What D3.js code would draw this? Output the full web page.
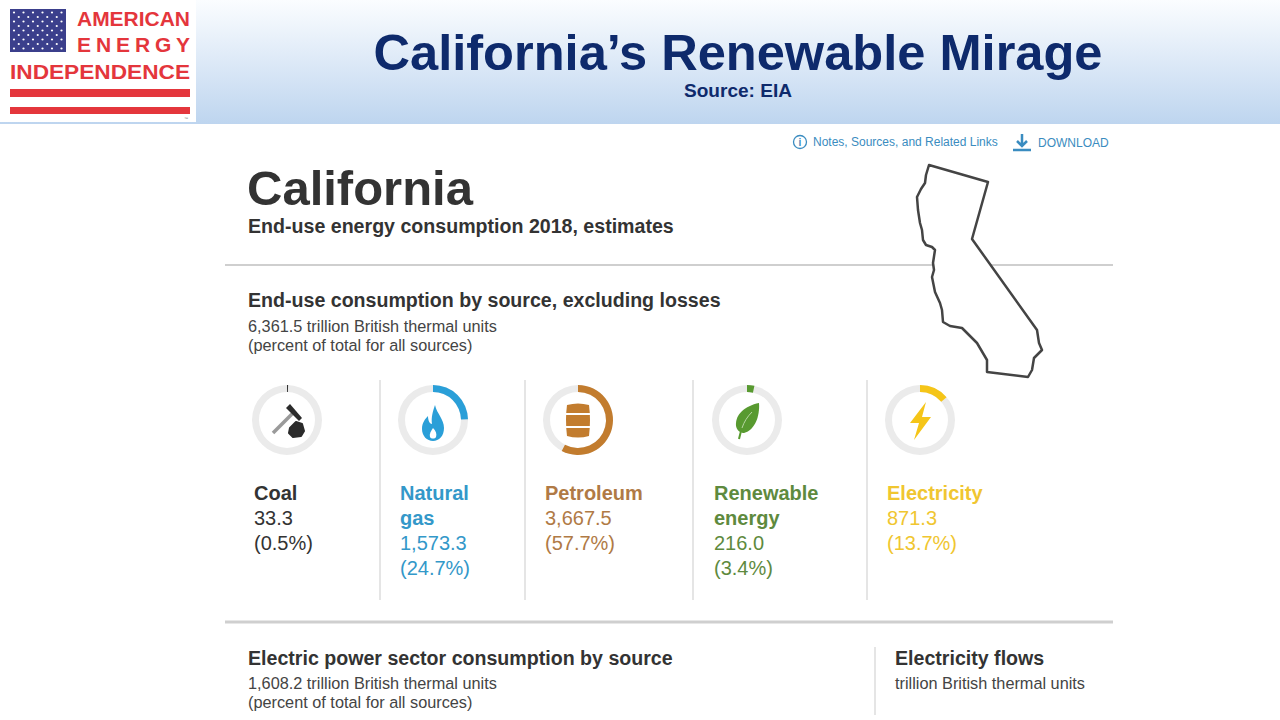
<!DOCTYPE html>
<html>
<head>
<meta charset="utf-8">
<script src="https://cdn.jsdelivr.net/npm/d3@7"></script>
<style>
  body { margin: 0; background: white; }
  text { font-family: "Liberation Sans", Arial, sans-serif; }
</style>
</head>
<body>
<div id="container"></div>
<script>
let w = 1280;
let h = 720;

// data
let categories = ["Coal", "Natural gas", "Petroleum", "Renewable energy", "Electricity"];
let values = [33.3, 1573.3, 3667.5, 216.0, 871.3];
let percents = [0.5, 24.7, 57.7, 3.4, 13.7];
let totalEndUse = 6361.5;
let totalPower = 1608.2;

let ringColors = ["#333333", "#2a9fd8", "#c27c2e", "#589a30", "#f5c518"];
let textColors = ["#333333", "#3398c9", "#b07a45", "#5e8a3e", "#f0c630"];

// layout: ring centres of the five columns
let colCenters = [287, 433, 578, 747, 920];
let ringY = 420;
let rOuter = 35;
let rInner = 28;

let navy = "#0e2a6c";
let logoRed = "#e4363c";
let headSize = 19.6;
let subSize = 16.3;

let viz = d3.select("#container")
  .append("svg")
    .attr("width", w)
    .attr("height", h)
    .style("background-color", "white")
;

// ---------- header band ----------
let defs = viz.append("defs");
let grad = defs.append("linearGradient")
    .attr("id", "band")
    .attr("x1", 0).attr("y1", 0).attr("x2", 0).attr("y2", 1)
;
grad.append("stop").attr("offset", "0%").attr("stop-color", "#fbfdff");
grad.append("stop").attr("offset", "100%").attr("stop-color", "#bed5ef");

viz.append("rect")
  .attr("x", 0)
  .attr("y", 0)
  .attr("width", w)
  .attr("height", 124)
  .attr("fill", "url(#band)")
;

viz.append("text")
  .text("California\u2019s Renewable Mirage")
  .attr("x", 738)
  .attr("y", 70)
  .attr("text-anchor", "middle")
  .attr("font-size", 50)
  .attr("font-weight", "bold")
  .attr("textLength", 729)
  .attr("lengthAdjust", "spacingAndGlyphs")
  .attr("fill", navy)
;
viz.append("text")
  .text("Source: EIA")
  .attr("x", 738)
  .attr("y", 97)
  .attr("text-anchor", "middle")
  .attr("font-size", 18)
  .attr("font-weight", "bold")
  .attr("textLength", 108)
  .attr("lengthAdjust", "spacingAndGlyphs")
  .attr("fill", navy)
;

// ---------- logo ----------
let logo = viz.append("g").attr("class", "logo");
logo.append("rect")
  .attr("x", 0).attr("y", 0)
  .attr("width", 196).attr("height", 122)
  .attr("fill", "white")
;
logo.append("rect")
  .attr("x", 10).attr("y", 9)
  .attr("width", 56).attr("height", 43)
  .attr("fill", "#3b3f8c")
;
for (let r = 0; r < 9; r++) {
  let n = r % 2 == 0 ? 6 : 5;
  for (let c = 0; c < n; c++) {
    logo.append("circle")
      .attr("cx", 14 + c * 9.5 + (r % 2 == 0 ? 0 : 4.75))
      .attr("cy", 12.5 + r * 4.5)
      .attr("r", 1.1)
      .attr("fill", "white")
    ;
  }
}
logo.append("text")
  .text("AMERICAN")
  .attr("x", 77).attr("y", 26)
  .attr("font-size", 21).attr("font-weight", "bold")
  .attr("textLength", 113).attr("lengthAdjust", "spacingAndGlyphs")
  .attr("fill", logoRed)
;
logo.append("text")
  .text("E N E R G Y")
  .attr("x", 77).attr("y", 52)
  .attr("font-size", 21).attr("font-weight", "bold")
  .attr("textLength", 113).attr("lengthAdjust", "spacing")
  .attr("fill", logoRed)
;
logo.append("text")
  .text("INDEPENDENCE")
  .attr("x", 10).attr("y", 79)
  .attr("font-size", 21).attr("font-weight", "bold")
  .attr("textLength", 180).attr("lengthAdjust", "spacingAndGlyphs")
  .attr("fill", logoRed)
;
logo.append("rect")
  .attr("x", 10).attr("y", 89)
  .attr("width", 180).attr("height", 8)
  .attr("fill", logoRed)
;
logo.append("rect")
  .attr("x", 10).attr("y", 107)
  .attr("width", 180).attr("height", 7)
  .attr("fill", logoRed)
;
logo.append("text")
  .text("\u2122")
  .attr("x", 184).attr("y", 120)
  .attr("font-size", 4)
  .attr("fill", "#777")
;

// ---------- links ----------
let linkBlue = "#3a8cc0";
viz.append("circle")
  .attr("cx", 800).attr("cy", 142).attr("r", 6.5)
  .attr("fill", "none").attr("stroke", linkBlue).attr("stroke-width", 1.3)
;
viz.append("text")
  .text("i")
  .attr("x", 800).attr("y", 146)
  .attr("text-anchor", "middle")
  .attr("font-size", 10).attr("font-weight", "bold")
  .attr("fill", linkBlue)
;
viz.append("text")
  .text("Notes, Sources, and Related Links")
  .attr("x", 813).attr("y", 146)
  .attr("font-size", 12)
  .attr("fill", linkBlue)
;
viz.append("path")
  .attr("d", "M1022,134 L1022,146 M1017,141 L1022,146 L1027,141 M1013,150 L1031,150")
  .attr("fill", "none").attr("stroke", linkBlue).attr("stroke-width", 2.5)
;
viz.append("text")
  .text("DOWNLOAD")
  .attr("x", 1038).attr("y", 147)
  .attr("font-size", 12)
  .attr("fill", linkBlue)
;

// ---------- headings ----------
viz.append("text")
  .text("California")
  .attr("x", 247).attr("y", 205)
  .attr("font-size", 49).attr("font-weight", "bold")
  .attr("fill", "#333")
;
viz.append("text")
  .text("End-use energy consumption 2018, estimates")
  .attr("x", 248).attr("y", 233)
  .attr("font-size", headSize).attr("font-weight", "bold")
  .attr("fill", "#333")
;
viz.append("line") // top rule
  .attr("x1", 225).attr("y1", 265)
  .attr("x2", 1113).attr("y2", 265)
  .style("stroke", "#cfcfcf")
  .style("stroke-width", 2)
;

// california outline
let caShape = [[929,165],[988,182],[972,239],[1037,330],[1039,343],[1042,350],[1034,358],[1032,370],[1028,377],
  [987,372],[987,360],[977,343],[970,336],[962,328],[950,326],[943,322],[942,310],[940,303],[935,292],[932,277],[934,270],
  [933,263],[935,250],[932,247],[926,245],[923,240],[922,230],[920,223],[918,210],[917,197],[921,189],[925,183],[926,175]];
viz.append("path")
  .attr("d", d3.line().curve(d3.curveLinearClosed)(caShape))
  .attr("fill", "white")
  .attr("stroke", "#444")
  .attr("stroke-width", 2.5)
  .attr("stroke-linejoin", "round")
;

viz.append("text")
  .text("End-use consumption by source, excluding losses")
  .attr("x", 248).attr("y", 307)
  .attr("font-size", headSize).attr("font-weight", "bold")
  .attr("fill", "#333")
;
viz.append("text")
  .text(d3.format(",.1f")(totalEndUse) + " trillion British thermal units")
  .attr("x", 248).attr("y", 332)
  .attr("font-size", subSize)
  .attr("fill", "#444")
;
viz.append("text")
  .text("(percent of total for all sources)")
  .attr("x", 248).attr("y", 351)
  .attr("font-size", subSize)
  .attr("fill", "#444")
;

// ---------- rings ----------
let angle = d3.scaleLinear().domain([0, 100]).range([0, 2 * Math.PI]);
let arc = d3.arc().innerRadius(rInner).outerRadius(rOuter);

let cols = viz.selectAll(".col").data(categories).enter()
  .append("g")
    .attr("class", "col")
    .attr("transform", function(d, i){ return "translate(" + colCenters[i] + "," + ringY + ")"; })
;

cols.append("path") // grey track
  .attr("d", arc({startAngle: 0, endAngle: 2 * Math.PI}))
  .attr("fill", "#ebebeb")
;
cols.append("path")
  .attr("d", function(d, i){ return arc({startAngle: 0, endAngle: angle(percents[i])}); })
  .attr("fill", function(d, i){ return ringColors[i]; })
;

// separators between columns
let seps = [380, 525, 693, 867];
viz.selectAll(".sep").data(seps).enter()
  .append("line")
    .attr("class", "sep")
    .attr("x1", function(d){ return d; })
    .attr("x2", function(d){ return d; })
    .attr("y1", 380)
    .attr("y2", 600)
    .style("stroke", "#dcdcdc")
    .style("stroke-width", 1.5)
;

// labels: name (bold, may wrap), value, percent
cols.each(function(d, i){
  let g = d3.select(this);
  let lines = d.split(" ");
  let x0 = -rOuter + 2;
  let y0 = 80;
  lines.forEach(function(t, j){
    g.append("text")
      .text(t)
      .attr("x", x0)
      .attr("y", y0 + j * 25)
      .attr("font-size", 20)
      .attr("font-weight", "bold")
      .attr("fill", textColors[i])
    ;
  });
  let k = lines.length;
  g.append("text")
    .text(d3.format(",.1f")(values[i]))
    .attr("x", x0)
    .attr("y", y0 + k * 25)
    .attr("font-size", 20)
    .attr("fill", textColors[i])
  ;
  g.append("text")
    .text("(" + percents[i] + "%)")
    .attr("x", x0)
    .attr("y", y0 + (k + 1) * 25)
    .attr("font-size", 20)
    .attr("fill", textColors[i])
  ;
});

// ---------- icons ----------
let icons = cols.append("g").attr("class", "icon");

// coal: hammer + lump
d3.select(icons.nodes()[0]).call(function(g){
  g.append("line")
    .attr("x1", -14).attr("y1", 13).attr("x2", 6).attr("y2", -7)
    .style("stroke", "#9a9a9a").style("stroke-width", 3.5)
  ;
  g.append("path")
    .attr("d", "M-1,-12 L3,-16 L15,-2 L12,1 Z")
    .attr("fill", "#2b2b2b")
  ;
  g.append("path")
    .attr("d", "M3,8 L9,2 L15,4 L17,11 L14,16 L6,17 L2,13 Z")
    .attr("fill", "#2b2b2b")
    .attr("stroke", "#2b2b2b").attr("stroke-width", 2).attr("stroke-linejoin", "round")
  ;
});

// natural gas: flame
d3.select(icons.nodes()[1]).call(function(g){
  g.append("path")
    .attr("d", "M2,-15 C4,-6 11,-1 11,8 C11,16 6,21 0,21 C-6,21 -11,16 -11,9 C-11,3 -8,-1 -5,-4 C-5,1 -3,4 -1,4 C-2,-3 0,-9 2,-15 Z")
    .attr("fill", ringColors[1])
  ;
  g.append("path")
    .attr("d", "M0,8 C3,11 4,14 3,17 C2,19 -2,19 -3,17 C-4,14 -2,11 0,8 Z")
    .attr("fill", "white")
  ;
});

// petroleum: barrel
d3.select(icons.nodes()[2]).call(function(g){
  g.append("path")
    .attr("d", "M-11,-15 Q0,-18 11,-15 Q13,0 11,16 Q0,19 -11,16 Q-13,0 -11,-15 Z")
    .attr("fill", ringColors[2])
  ;
  g.append("line").attr("x1", -12).attr("x2", 12).attr("y1", -6).attr("y2", -6)
    .style("stroke", "white").style("stroke-width", 2);
  g.append("line").attr("x1", -12).attr("x2", 12).attr("y1", 7).attr("y2", 7)
    .style("stroke", "white").style("stroke-width", 2);
});

// renewable: leaf
d3.select(icons.nodes()[3]).call(function(g){
  g.append("path")
    .attr("d", "M12,-17 C-2,-14 -12,-6 -11,6 C-10,11 -6,13 -3,13 C8,10 13,-4 12,-17 Z")
    .attr("fill", ringColors[3])
  ;
  g.append("path")
    .attr("d", "M-8,19 C-6,8 -2,0 6,-8")
    .attr("fill", "none").attr("stroke", ringColors[3]).attr("stroke-width", 2)
  ;
  g.append("path")
    .attr("d", "M-5,8 C-3,2 0,-3 5,-8")
    .attr("fill", "none").attr("stroke", "#b8d6a4").attr("stroke-width", 1)
  ;
});

// electricity: bolt
d3.select(icons.nodes()[4]).call(function(g){
  g.append("path")
    .attr("d", "M6,-18 L-10,3 L-1,3 L-6,20 L11,-3 L2,-3 Z")
    .attr("fill", ringColors[4])
  ;
});

// ---------- bottom section ----------
viz.append("line")
  .attr("x1", 225).attr("y1", 622)
  .attr("x2", 1113).attr("y2", 622)
  .style("stroke", "#cfcfcf")
  .style("stroke-width", 3)
;
viz.append("text")
  .text("Electric power sector consumption by source")
  .attr("x", 248).attr("y", 665)
  .attr("font-size", headSize).attr("font-weight", "bold")
  .attr("fill", "#333")
;
viz.append("text")
  .text(d3.format(",.1f")(totalPower) + " trillion British thermal units")
  .attr("x", 248).attr("y", 689)
  .attr("font-size", subSize)
  .attr("fill", "#444")
;
viz.append("text")
  .text("(percent of total for all sources)")
  .attr("x", 248).attr("y", 708)
  .attr("font-size", subSize)
  .attr("fill", "#444")
;
viz.append("line")
  .attr("x1", 875).attr("y1", 647)
  .attr("x2", 875).attr("y2", 715)
  .style("stroke", "#dcdcdc")
  .style("stroke-width", 1.5)
;
viz.append("text")
  .text("Electricity flows")
  .attr("x", 895).attr("y", 665)
  .attr("font-size", headSize).attr("font-weight", "bold")
  .attr("fill", "#333")
;
viz.append("text")
  .text("trillion British thermal units")
  .attr("x", 895).attr("y", 689)
  .attr("font-size", subSize)
  .attr("fill", "#444")
;
</script>
</body>
</html>
